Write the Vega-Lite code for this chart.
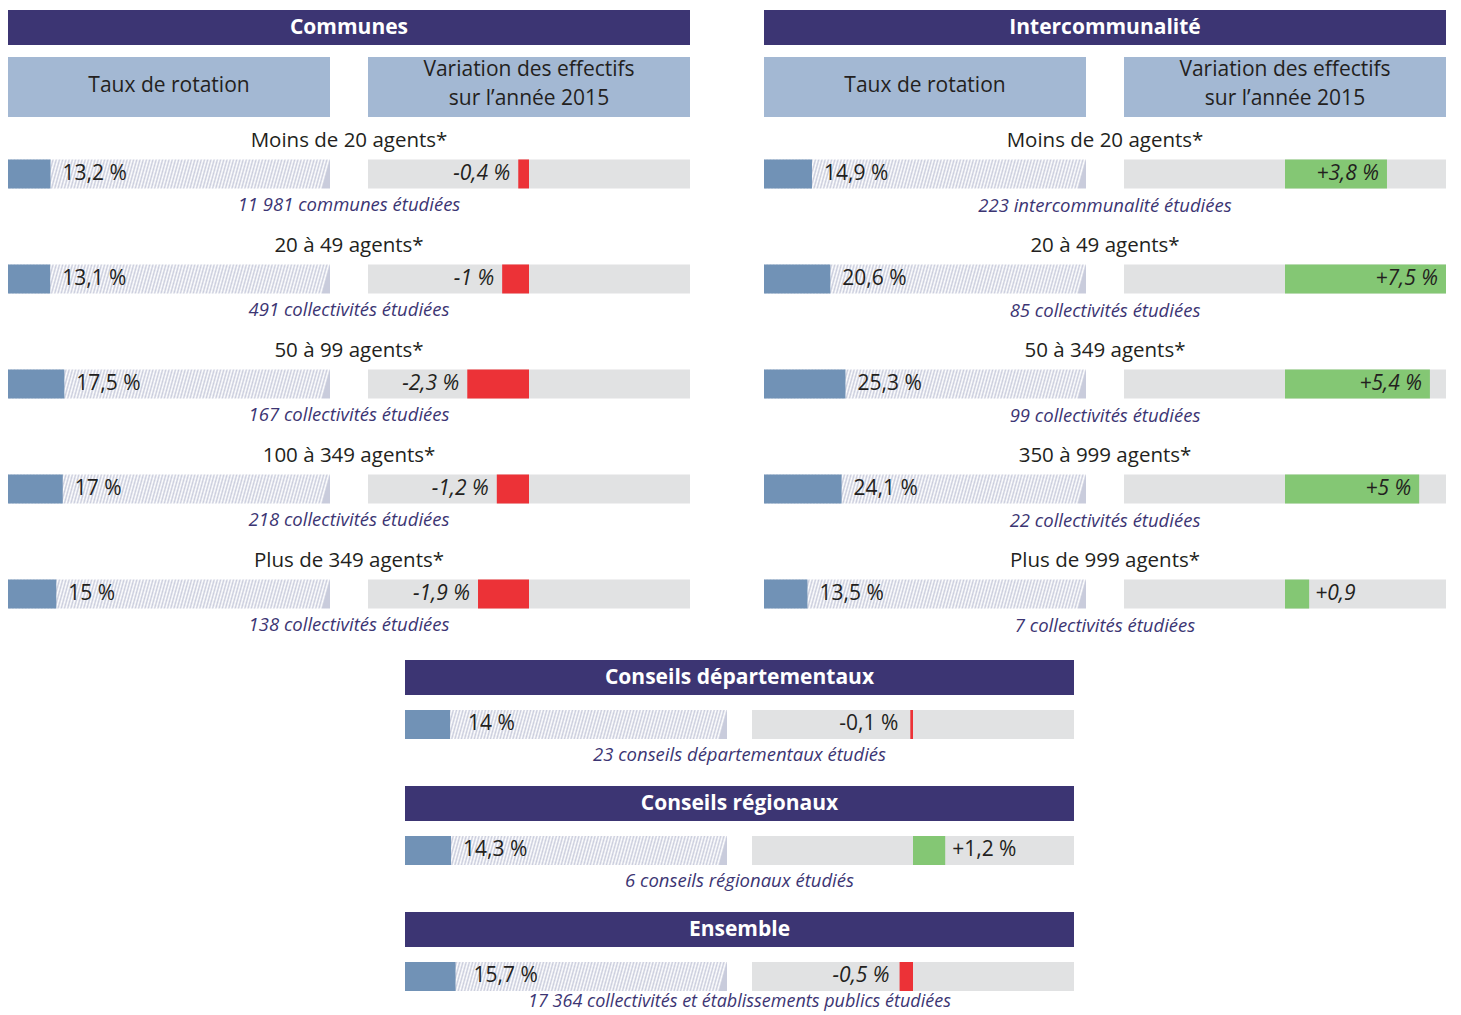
{
"$schema": "https://vega.github.io/schema/vega-lite/v6.json",
"padding": {"left": 8, "top": 10, "right": 0, "bottom": 0},
"background": "#ffffff",
"config": {
 "view": {"stroke": null},
 "font": "Open Sans",
 "text": {"font": "Open Sans", "baseline": "middle"},
 "rect": {"fill": {"gradient": "linear", "x1": 0, "y1": 0, "x2": 1, "y2": 0.025, "stops": [
{"offset":0,"color":"#c9ccdc"},{"offset":0.005,"color":"#fff"},{"offset":0.01,"color":"#c9ccdc"},{"offset":0.015,"color":"#fff"},{"offset":0.02,"color":"#c9ccdc"},{"offset":0.025,"color":"#fff"},{"offset":0.03,"color":"#c9ccdc"},{"offset":0.035,"color":"#fff"},{"offset":0.04,"color":"#c9ccdc"},{"offset":0.045,"color":"#fff"},
{"offset":0.05,"color":"#c9ccdc"},{"offset":0.055,"color":"#fff"},{"offset":0.06,"color":"#c9ccdc"},{"offset":0.065,"color":"#fff"},{"offset":0.07,"color":"#c9ccdc"},{"offset":0.075,"color":"#fff"},{"offset":0.08,"color":"#c9ccdc"},{"offset":0.085,"color":"#fff"},{"offset":0.09,"color":"#c9ccdc"},{"offset":0.095,"color":"#fff"},
{"offset":0.1,"color":"#c9ccdc"},{"offset":0.105,"color":"#fff"},{"offset":0.11,"color":"#c9ccdc"},{"offset":0.115,"color":"#fff"},{"offset":0.12,"color":"#c9ccdc"},{"offset":0.125,"color":"#fff"},{"offset":0.13,"color":"#c9ccdc"},{"offset":0.135,"color":"#fff"},{"offset":0.14,"color":"#c9ccdc"},{"offset":0.145,"color":"#fff"},
{"offset":0.15,"color":"#c9ccdc"},{"offset":0.155,"color":"#fff"},{"offset":0.16,"color":"#c9ccdc"},{"offset":0.165,"color":"#fff"},{"offset":0.17,"color":"#c9ccdc"},{"offset":0.175,"color":"#fff"},{"offset":0.18,"color":"#c9ccdc"},{"offset":0.185,"color":"#fff"},{"offset":0.19,"color":"#c9ccdc"},{"offset":0.195,"color":"#fff"},
{"offset":0.2,"color":"#c9ccdc"},{"offset":0.205,"color":"#fff"},{"offset":0.21,"color":"#c9ccdc"},{"offset":0.215,"color":"#fff"},{"offset":0.22,"color":"#c9ccdc"},{"offset":0.225,"color":"#fff"},{"offset":0.23,"color":"#c9ccdc"},{"offset":0.235,"color":"#fff"},{"offset":0.24,"color":"#c9ccdc"},{"offset":0.245,"color":"#fff"},
{"offset":0.25,"color":"#c9ccdc"},{"offset":0.255,"color":"#fff"},{"offset":0.26,"color":"#c9ccdc"},{"offset":0.265,"color":"#fff"},{"offset":0.27,"color":"#c9ccdc"},{"offset":0.275,"color":"#fff"},{"offset":0.28,"color":"#c9ccdc"},{"offset":0.285,"color":"#fff"},{"offset":0.29,"color":"#c9ccdc"},{"offset":0.295,"color":"#fff"},
{"offset":0.3,"color":"#c9ccdc"},{"offset":0.305,"color":"#fff"},{"offset":0.31,"color":"#c9ccdc"},{"offset":0.315,"color":"#fff"},{"offset":0.32,"color":"#c9ccdc"},{"offset":0.325,"color":"#fff"},{"offset":0.33,"color":"#c9ccdc"},{"offset":0.335,"color":"#fff"},{"offset":0.34,"color":"#c9ccdc"},{"offset":0.345,"color":"#fff"},
{"offset":0.35,"color":"#c9ccdc"},{"offset":0.355,"color":"#fff"},{"offset":0.36,"color":"#c9ccdc"},{"offset":0.365,"color":"#fff"},{"offset":0.37,"color":"#c9ccdc"},{"offset":0.375,"color":"#fff"},{"offset":0.38,"color":"#c9ccdc"},{"offset":0.385,"color":"#fff"},{"offset":0.39,"color":"#c9ccdc"},{"offset":0.395,"color":"#fff"},
{"offset":0.4,"color":"#c9ccdc"},{"offset":0.405,"color":"#fff"},{"offset":0.41,"color":"#c9ccdc"},{"offset":0.415,"color":"#fff"},{"offset":0.42,"color":"#c9ccdc"},{"offset":0.425,"color":"#fff"},{"offset":0.43,"color":"#c9ccdc"},{"offset":0.435,"color":"#fff"},{"offset":0.44,"color":"#c9ccdc"},{"offset":0.445,"color":"#fff"},
{"offset":0.45,"color":"#c9ccdc"},{"offset":0.455,"color":"#fff"},{"offset":0.46,"color":"#c9ccdc"},{"offset":0.465,"color":"#fff"},{"offset":0.47,"color":"#c9ccdc"},{"offset":0.475,"color":"#fff"},{"offset":0.48,"color":"#c9ccdc"},{"offset":0.485,"color":"#fff"},{"offset":0.49,"color":"#c9ccdc"},{"offset":0.495,"color":"#fff"},
{"offset":0.5,"color":"#c9ccdc"},{"offset":0.505,"color":"#fff"},{"offset":0.51,"color":"#c9ccdc"},{"offset":0.515,"color":"#fff"},{"offset":0.52,"color":"#c9ccdc"},{"offset":0.525,"color":"#fff"},{"offset":0.53,"color":"#c9ccdc"},{"offset":0.535,"color":"#fff"},{"offset":0.54,"color":"#c9ccdc"},{"offset":0.545,"color":"#fff"},
{"offset":0.55,"color":"#c9ccdc"},{"offset":0.555,"color":"#fff"},{"offset":0.56,"color":"#c9ccdc"},{"offset":0.565,"color":"#fff"},{"offset":0.57,"color":"#c9ccdc"},{"offset":0.575,"color":"#fff"},{"offset":0.58,"color":"#c9ccdc"},{"offset":0.585,"color":"#fff"},{"offset":0.59,"color":"#c9ccdc"},{"offset":0.595,"color":"#fff"},
{"offset":0.6,"color":"#c9ccdc"},{"offset":0.605,"color":"#fff"},{"offset":0.61,"color":"#c9ccdc"},{"offset":0.615,"color":"#fff"},{"offset":0.62,"color":"#c9ccdc"},{"offset":0.625,"color":"#fff"},{"offset":0.63,"color":"#c9ccdc"},{"offset":0.635,"color":"#fff"},{"offset":0.64,"color":"#c9ccdc"},{"offset":0.645,"color":"#fff"},
{"offset":0.65,"color":"#c9ccdc"},{"offset":0.655,"color":"#fff"},{"offset":0.66,"color":"#c9ccdc"},{"offset":0.665,"color":"#fff"},{"offset":0.67,"color":"#c9ccdc"},{"offset":0.675,"color":"#fff"},{"offset":0.68,"color":"#c9ccdc"},{"offset":0.685,"color":"#fff"},{"offset":0.69,"color":"#c9ccdc"},{"offset":0.695,"color":"#fff"},
{"offset":0.7,"color":"#c9ccdc"},{"offset":0.705,"color":"#fff"},{"offset":0.71,"color":"#c9ccdc"},{"offset":0.715,"color":"#fff"},{"offset":0.72,"color":"#c9ccdc"},{"offset":0.725,"color":"#fff"},{"offset":0.73,"color":"#c9ccdc"},{"offset":0.735,"color":"#fff"},{"offset":0.74,"color":"#c9ccdc"},{"offset":0.745,"color":"#fff"},
{"offset":0.75,"color":"#c9ccdc"},{"offset":0.755,"color":"#fff"},{"offset":0.76,"color":"#c9ccdc"},{"offset":0.765,"color":"#fff"},{"offset":0.77,"color":"#c9ccdc"},{"offset":0.775,"color":"#fff"},{"offset":0.78,"color":"#c9ccdc"},{"offset":0.785,"color":"#fff"},{"offset":0.79,"color":"#c9ccdc"},{"offset":0.795,"color":"#fff"},
{"offset":0.8,"color":"#c9ccdc"},{"offset":0.805,"color":"#fff"},{"offset":0.81,"color":"#c9ccdc"},{"offset":0.815,"color":"#fff"},{"offset":0.82,"color":"#c9ccdc"},{"offset":0.825,"color":"#fff"},{"offset":0.83,"color":"#c9ccdc"},{"offset":0.835,"color":"#fff"},{"offset":0.84,"color":"#c9ccdc"},{"offset":0.845,"color":"#fff"},
{"offset":0.85,"color":"#c9ccdc"},{"offset":0.855,"color":"#fff"},{"offset":0.86,"color":"#c9ccdc"},{"offset":0.865,"color":"#fff"},{"offset":0.87,"color":"#c9ccdc"},{"offset":0.875,"color":"#fff"},{"offset":0.88,"color":"#c9ccdc"},{"offset":0.885,"color":"#fff"},{"offset":0.89,"color":"#c9ccdc"},{"offset":0.895,"color":"#fff"},
{"offset":0.9,"color":"#c9ccdc"},{"offset":0.905,"color":"#fff"},{"offset":0.91,"color":"#c9ccdc"},{"offset":0.915,"color":"#fff"},{"offset":0.92,"color":"#c9ccdc"},{"offset":0.925,"color":"#fff"},{"offset":0.93,"color":"#c9ccdc"},{"offset":0.935,"color":"#fff"},{"offset":0.94,"color":"#c9ccdc"},{"offset":0.945,"color":"#fff"},
{"offset":0.95,"color":"#c9ccdc"},{"offset":0.955,"color":"#fff"},{"offset":0.96,"color":"#c9ccdc"},{"offset":0.965,"color":"#fff"},{"offset":0.97,"color":"#c9ccdc"},{"offset":0.975,"color":"#fff"},{"offset":0.98,"color":"#c9ccdc"},{"offset":0.985,"color":"#fff"},{"offset":0.99,"color":"#c9ccdc"},{"offset":0.995,"color":"#fff"},
{"offset":1,"color":"#c9ccdc"}
 ]}}
},
"datasets": {
 "communes": [
  {"cat":"Moins de 20 agents*","rotation":13.2,"rotLabel":"13,2 %","variation":-0.4,"varLabel":"-0,4 %","note":"11 981 communes étudiées"},
  {"cat":"20 à 49 agents*","rotation":13.1,"rotLabel":"13,1 %","variation":-1,"varLabel":"-1 %","note":"491 collectivités étudiées"},
  {"cat":"50 à 99 agents*","rotation":17.5,"rotLabel":"17,5 %","variation":-2.3,"varLabel":"-2,3 %","note":"167 collectivités étudiées"},
  {"cat":"100 à 349 agents*","rotation":17,"rotLabel":"17 %","variation":-1.2,"varLabel":"-1,2 %","note":"218 collectivités étudiées"},
  {"cat":"Plus de 349 agents*","rotation":15,"rotLabel":"15 %","variation":-1.9,"varLabel":"-1,9 %","note":"138 collectivités étudiées"}
 ],
 "interco": [
  {"cat":"Moins de 20 agents*","rotation":14.9,"rotLabel":"14,9 %","variation":3.8,"varLabel":"+3,8 %","note":"223 intercommunalité étudiées"},
  {"cat":"20 à 49 agents*","rotation":20.6,"rotLabel":"20,6 %","variation":7.5,"varLabel":"+7,5 %","note":"85 collectivités étudiées"},
  {"cat":"50 à 349 agents*","rotation":25.3,"rotLabel":"25,3 %","variation":5.4,"varLabel":"+5,4 %","note":"99 collectivités étudiées"},
  {"cat":"350 à 999 agents*","rotation":24.1,"rotLabel":"24,1 %","variation":5,"varLabel":"+5 %","note":"22 collectivités étudiées"},
  {"cat":"Plus de 999 agents*","rotation":13.5,"rotLabel":"13,5 %","variation":0.9,"varLabel":"+0,9","note":"7 collectivités étudiées"}
 ],
 "bottom": [
  {"section":"Conseils départementaux","rotation":14,"rotLabel":"14 %","variation":-0.1,"varLabel":"-0,1 %","note":"23 conseils départementaux étudiés"},
  {"section":"Conseils régionaux","rotation":14.3,"rotLabel":"14,3 %","variation":1.2,"varLabel":"+1,2 %","note":"6 conseils régionaux étudiés"},
  {"section":"Ensemble","rotation":15.7,"rotLabel":"15,7 %","variation":-0.5,"varLabel":"-0,5 %","note":"17 364 collectivités et établissements publics étudiées"}
 ]
},
"spacing": 20,
"vconcat": [
 {
  "hconcat": [
   {
    "spacing": 12,
    "vconcat": [
     {"width": 682, "height": 35, "view": {"fill": "#3c3573", "stroke": null},
      "data": {"values": [{"label": "Communes"}]},
      "mark": {"type": "text", "color": "#ffffff", "fontSize": 21, "fontWeight": "bold"},
      "encoding": {"text": {"field": "label"}}},
     {"spacing": 38, "hconcat": [
      {"width": 322, "height": 60, "view": {"fill": "#a3b8d3", "stroke": null},
       "data": {"values": [{"label": "Taux de rotation"}]},
       "mark": {"type": "text", "color": "#231f20", "fontSize": 21, "dy": -1},
       "encoding": {"text": {"field": "label"}}},
      {"width": 322, "height": 60, "view": {"fill": "#a3b8d3", "stroke": null},
       "data": {"values": [{"label": "Variation des effectifs\nsur l’année 2015"}]},
       "mark": {"type": "text", "color": "#231f20", "fontSize": 21, "lineBreak": "\n", "lineHeight": 29, "dy": -17},
       "encoding": {"text": {"field": "label"}}}
     ]},
     {"spacing": 38, "bounds": "flush", "hconcat": [
      {"width": 322, "height": 510, "data": {"name": "communes"},
       "encoding": {"y": {"field": "cat", "type": "nominal", "axis": null, "scale": {"domain": ["Moins de 20 agents*","20 à 49 agents*","50 à 99 agents*","100 à 349 agents*","Plus de 349 agents*"], "paddingInner": 0.7238, "paddingOuter": 0.29}}},
       "layer": [
        {"mark": {"type": "rect"}, "encoding": {"x": {"datum": 0, "type": "quantitative", "scale": {"domain": [0, 100]}, "axis": null}, "x2": {"datum": 100}}},
        {"mark": {"type": "bar", "color": "#7192b6"}, "encoding": {"x": {"field": "rotation", "type": "quantitative", "scale": {"domain": [0, 100]}, "axis": null}}},
        {"mark": {"type": "text", "align": "left", "dx": 12, "fontSize": 21, "color": "#231f20"}, "encoding": {"x": {"field": "rotation", "type": "quantitative"}, "text": {"field": "rotLabel"}}},
        {"mark": {"type": "text", "align": "center", "dx": 19, "dy": -33, "fontSize": 20.5, "color": "#231f20"}, "encoding": {"x": {"datum": 100, "type": "quantitative"}, "text": {"field": "cat"}}},
        {"mark": {"type": "text", "align": "center", "dx": 19, "dy": 31, "fontSize": 18.5, "fontStyle": "italic", "color": "#3c3573"}, "encoding": {"x": {"datum": 100, "type": "quantitative"}, "text": {"field": "note"}}}
       ]},
      {"width": 322, "height": 510, "data": {"name": "communes"},
       "encoding": {"y": {"field": "cat", "type": "nominal", "axis": null, "scale": {"domain": ["Moins de 20 agents*","20 à 49 agents*","50 à 99 agents*","100 à 349 agents*","Plus de 349 agents*"], "paddingInner": 0.7238, "paddingOuter": 0.29}}},
       "layer": [
        {"mark": {"type": "bar", "color": "#e1e2e3"}, "encoding": {"x": {"datum": -6, "type": "quantitative", "scale": {"domain": [-6, 6], "clamp": true}, "axis": null}, "x2": {"datum": 6}}},
        {"mark": {"type": "bar"}, "encoding": {"x": {"field": "variation", "type": "quantitative", "stack": null}, "x2": {"datum": 0}, "color": {"condition": {"test": "datum['variation'] < 0", "value": "#ec3237"}, "value": "#84c774"}}},
        {"transform": [{"filter": "datum['variation'] < 0"}], "mark": {"type": "text", "align": "right", "dx": -8, "fontSize": 21, "fontStyle": "italic", "color": "#231f20"}, "encoding": {"x": {"field": "variation", "type": "quantitative"}, "text": {"field": "varLabel"}}},
        {"transform": [{"filter": "datum['variation'] >= 2"}], "mark": {"type": "text", "align": "right", "dx": -8, "fontSize": 21, "fontStyle": "italic", "color": "#231f20"}, "encoding": {"x": {"field": "variation", "type": "quantitative"}, "text": {"field": "varLabel"}}},
        {"transform": [{"filter": "datum['variation'] >= 0 && datum['variation'] < 2"}], "mark": {"type": "text", "align": "left", "dx": 6, "fontSize": 21, "fontStyle": "italic", "color": "#231f20"}, "encoding": {"x": {"field": "variation", "type": "quantitative"}, "text": {"field": "varLabel"}}}
       ]}
     ]}
    ]
   },
   {
    "spacing": 12,
    "vconcat": [
     {"width": 682, "height": 35, "view": {"fill": "#3c3573", "stroke": null},
      "data": {"values": [{"label": "Intercommunalité"}]},
      "mark": {"type": "text", "color": "#ffffff", "fontSize": 21, "fontWeight": "bold"},
      "encoding": {"text": {"field": "label"}}},
     {"spacing": 38, "hconcat": [
      {"width": 322, "height": 60, "view": {"fill": "#a3b8d3", "stroke": null},
       "data": {"values": [{"label": "Taux de rotation"}]},
       "mark": {"type": "text", "color": "#231f20", "fontSize": 21, "dy": -1},
       "encoding": {"text": {"field": "label"}}},
      {"width": 322, "height": 60, "view": {"fill": "#a3b8d3", "stroke": null},
       "data": {"values": [{"label": "Variation des effectifs\nsur l’année 2015"}]},
       "mark": {"type": "text", "color": "#231f20", "fontSize": 21, "lineBreak": "\n", "lineHeight": 29, "dy": -17},
       "encoding": {"text": {"field": "label"}}}
     ]},
     {"spacing": 38, "bounds": "flush", "hconcat": [
      {"width": 322, "height": 510, "data": {"name": "interco"},
       "encoding": {"y": {"field": "cat", "type": "nominal", "axis": null, "scale": {"domain": ["Moins de 20 agents*","20 à 49 agents*","50 à 349 agents*","350 à 999 agents*","Plus de 999 agents*"], "paddingInner": 0.7238, "paddingOuter": 0.29}}},
       "layer": [
        {"mark": {"type": "rect"}, "encoding": {"x": {"datum": 0, "type": "quantitative", "scale": {"domain": [0, 100]}, "axis": null}, "x2": {"datum": 100}}},
        {"mark": {"type": "bar", "color": "#7192b6"}, "encoding": {"x": {"field": "rotation", "type": "quantitative", "scale": {"domain": [0, 100]}, "axis": null}}},
        {"mark": {"type": "text", "align": "left", "dx": 12, "fontSize": 21, "color": "#231f20"}, "encoding": {"x": {"field": "rotation", "type": "quantitative"}, "text": {"field": "rotLabel"}}},
        {"mark": {"type": "text", "align": "center", "dx": 19, "dy": -33, "fontSize": 20.5, "color": "#231f20"}, "encoding": {"x": {"datum": 100, "type": "quantitative"}, "text": {"field": "cat"}}},
        {"mark": {"type": "text", "align": "center", "dx": 19, "dy": 32, "fontSize": 18.5, "fontStyle": "italic", "color": "#3c3573"}, "encoding": {"x": {"datum": 100, "type": "quantitative"}, "text": {"field": "note"}}}
       ]},
      {"width": 322, "height": 510, "data": {"name": "interco"},
       "encoding": {"y": {"field": "cat", "type": "nominal", "axis": null, "scale": {"domain": ["Moins de 20 agents*","20 à 49 agents*","50 à 349 agents*","350 à 999 agents*","Plus de 999 agents*"], "paddingInner": 0.7238, "paddingOuter": 0.29}}},
       "layer": [
        {"mark": {"type": "bar", "color": "#e1e2e3"}, "encoding": {"x": {"datum": -6, "type": "quantitative", "scale": {"domain": [-6, 6], "clamp": true}, "axis": null}, "x2": {"datum": 6}}},
        {"mark": {"type": "bar"}, "encoding": {"x": {"field": "variation", "type": "quantitative", "stack": null}, "x2": {"datum": 0}, "color": {"condition": {"test": "datum['variation'] < 0", "value": "#ec3237"}, "value": "#84c774"}}},
        {"transform": [{"filter": "datum['variation'] < 0"}], "mark": {"type": "text", "align": "right", "dx": -8, "fontSize": 21, "fontStyle": "italic", "color": "#231f20"}, "encoding": {"x": {"field": "variation", "type": "quantitative"}, "text": {"field": "varLabel"}}},
        {"transform": [{"filter": "datum['variation'] >= 2"}], "mark": {"type": "text", "align": "right", "dx": -8, "fontSize": 21, "fontStyle": "italic", "color": "#231f20"}, "encoding": {"x": {"field": "variation", "type": "quantitative"}, "text": {"field": "varLabel"}}},
        {"transform": [{"filter": "datum['variation'] >= 0 && datum['variation'] < 2"}], "mark": {"type": "text", "align": "left", "dx": 6, "fontSize": 21, "fontStyle": "italic", "color": "#231f20"}, "encoding": {"x": {"field": "variation", "type": "quantitative"}, "text": {"field": "varLabel"}}}
       ]}
     ]}
    ]
   }
  ],
  "spacing": 74
 },
 {
  "spacing": 0,
  "hconcat": [
   {"width": 397, "height": 10, "data": {"values": [{"label": ""}]}, "mark": {"type": "text"}, "encoding": {"text": {"field": "label"}}},
   {
    "spacing": 16,
    "vconcat": [
     {"spacing": 15, "vconcat": [
      {"width": 669, "height": 35, "view": {"fill": "#3c3573", "stroke": null},
       "data": {"name": "bottom"}, "transform": [{"filter": "datum.section == 'Conseils départementaux'"}],
       "mark": {"type": "text", "color": "#ffffff", "fontSize": 21, "fontWeight": "bold"},
       "encoding": {"text": {"field": "section"}}},
      {"spacing": 25, "bounds": "flush", "hconcat": [
       {"width": 322, "height": 60, "data": {"name": "bottom"}, "transform": [{"filter": "datum.section == 'Conseils départementaux'"}],
        "encoding": {"y": {"field": "section", "type": "nominal", "axis": null, "scale": {"paddingInner": 0, "paddingOuter": 0.5345, "align": 0}}},
        "layer": [
         {"mark": {"type": "rect"}, "encoding": {"x": {"datum": 0, "type": "quantitative", "scale": {"domain": [0, 100]}, "axis": null}, "x2": {"datum": 100}}},
         {"mark": {"type": "bar", "color": "#7192b6"}, "encoding": {"x": {"field": "rotation", "type": "quantitative", "scale": {"domain": [0, 100]}, "axis": null}}},
         {"mark": {"type": "text", "align": "left", "dx": 18, "fontSize": 21, "color": "#231f20"}, "encoding": {"x": {"field": "rotation", "type": "quantitative"}, "text": {"field": "rotLabel"}}},
         {"mark": {"type": "text", "align": "center", "dx": 12.5, "dy": 30.5, "fontSize": 18.5, "fontStyle": "italic", "color": "#3c3573"}, "encoding": {"x": {"datum": 100, "type": "quantitative"}, "text": {"field": "note"}}}
        ]},
       {"width": 322, "height": 60, "data": {"name": "bottom"}, "transform": [{"filter": "datum.section == 'Conseils départementaux'"}],
        "encoding": {"y": {"field": "section", "type": "nominal", "axis": null, "scale": {"paddingInner": 0, "paddingOuter": 0.5345, "align": 0}}},
        "layer": [
         {"mark": {"type": "bar", "color": "#e1e2e3"}, "encoding": {"x": {"datum": -6, "type": "quantitative", "scale": {"domain": [-6, 6], "clamp": true}, "axis": null}, "x2": {"datum": 6}}},
         {"mark": {"type": "bar"}, "encoding": {"x": {"field": "variation", "type": "quantitative", "stack": null}, "x2": {"datum": 0}, "color": {"condition": {"test": "datum['variation'] < 0", "value": "#ec3237"}, "value": "#84c774"}}},
         {"mark": {"type": "text", "align": "right", "dx": -12, "fontSize": 21, "color": "#231f20"}, "encoding": {"x": {"field": "variation", "type": "quantitative"}, "text": {"field": "varLabel"}}}
        ]}
      ]}
     ]},
     {"spacing": 15, "vconcat": [
      {"width": 669, "height": 35, "view": {"fill": "#3c3573", "stroke": null},
       "data": {"name": "bottom"}, "transform": [{"filter": "datum.section == 'Conseils régionaux'"}],
       "mark": {"type": "text", "color": "#ffffff", "fontSize": 21, "fontWeight": "bold"},
       "encoding": {"text": {"field": "section"}}},
      {"spacing": 25, "bounds": "flush", "hconcat": [
       {"width": 322, "height": 60, "data": {"name": "bottom"}, "transform": [{"filter": "datum.section == 'Conseils régionaux'"}],
        "encoding": {"y": {"field": "section", "type": "nominal", "axis": null, "scale": {"paddingInner": 0, "paddingOuter": 0.5345, "align": 0}}},
        "layer": [
         {"mark": {"type": "rect"}, "encoding": {"x": {"datum": 0, "type": "quantitative", "scale": {"domain": [0, 100]}, "axis": null}, "x2": {"datum": 100}}},
         {"mark": {"type": "bar", "color": "#7192b6"}, "encoding": {"x": {"field": "rotation", "type": "quantitative", "scale": {"domain": [0, 100]}, "axis": null}}},
         {"mark": {"type": "text", "align": "left", "dx": 12, "fontSize": 21, "color": "#231f20"}, "encoding": {"x": {"field": "rotation", "type": "quantitative"}, "text": {"field": "rotLabel"}}},
         {"mark": {"type": "text", "align": "center", "dx": 12.5, "dy": 30.5, "fontSize": 18.5, "fontStyle": "italic", "color": "#3c3573"}, "encoding": {"x": {"datum": 100, "type": "quantitative"}, "text": {"field": "note"}}}
        ]},
       {"width": 322, "height": 60, "data": {"name": "bottom"}, "transform": [{"filter": "datum.section == 'Conseils régionaux'"}],
        "encoding": {"y": {"field": "section", "type": "nominal", "axis": null, "scale": {"paddingInner": 0, "paddingOuter": 0.5345, "align": 0}}},
        "layer": [
         {"mark": {"type": "bar", "color": "#e1e2e3"}, "encoding": {"x": {"datum": -6, "type": "quantitative", "scale": {"domain": [-6, 6], "clamp": true}, "axis": null}, "x2": {"datum": 6}}},
         {"mark": {"type": "bar"}, "encoding": {"x": {"field": "variation", "type": "quantitative", "stack": null}, "x2": {"datum": 0}, "color": {"condition": {"test": "datum['variation'] < 0", "value": "#ec3237"}, "value": "#84c774"}}},
         {"mark": {"type": "text", "align": "left", "dx": 7, "fontSize": 21, "color": "#231f20"}, "encoding": {"x": {"field": "variation", "type": "quantitative"}, "text": {"field": "varLabel"}}}
        ]}
      ]}
     ]},
     {"spacing": 15, "vconcat": [
      {"width": 669, "height": 35, "view": {"fill": "#3c3573", "stroke": null},
       "data": {"name": "bottom"}, "transform": [{"filter": "datum.section == 'Ensemble'"}],
       "mark": {"type": "text", "color": "#ffffff", "fontSize": 21, "fontWeight": "bold"},
       "encoding": {"text": {"field": "section"}}},
      {"spacing": 25, "bounds": "flush", "hconcat": [
       {"width": 322, "height": 60, "data": {"name": "bottom"}, "transform": [{"filter": "datum.section == 'Ensemble'"}],
        "encoding": {"y": {"field": "section", "type": "nominal", "axis": null, "scale": {"paddingInner": 0, "paddingOuter": 0.5345, "align": 0}}},
        "layer": [
         {"mark": {"type": "rect"}, "encoding": {"x": {"datum": 0, "type": "quantitative", "scale": {"domain": [0, 100]}, "axis": null}, "x2": {"datum": 100}}},
         {"mark": {"type": "bar", "color": "#7192b6"}, "encoding": {"x": {"field": "rotation", "type": "quantitative", "scale": {"domain": [0, 100]}, "axis": null}}},
         {"mark": {"type": "text", "align": "left", "dx": 18, "fontSize": 21, "color": "#231f20"}, "encoding": {"x": {"field": "rotation", "type": "quantitative"}, "text": {"field": "rotLabel"}}},
         {"mark": {"type": "text", "align": "center", "dx": 12.5, "dy": 26, "fontSize": 18, "fontStyle": "italic", "color": "#3c3573"}, "encoding": {"x": {"datum": 100, "type": "quantitative"}, "text": {"field": "note"}}}
        ]},
       {"width": 322, "height": 60, "data": {"name": "bottom"}, "transform": [{"filter": "datum.section == 'Ensemble'"}],
        "encoding": {"y": {"field": "section", "type": "nominal", "axis": null, "scale": {"paddingInner": 0, "paddingOuter": 0.5345, "align": 0}}},
        "layer": [
         {"mark": {"type": "bar", "color": "#e1e2e3"}, "encoding": {"x": {"datum": -6, "type": "quantitative", "scale": {"domain": [-6, 6], "clamp": true}, "axis": null}, "x2": {"datum": 6}}},
         {"mark": {"type": "bar"}, "encoding": {"x": {"field": "variation", "type": "quantitative", "stack": null}, "x2": {"datum": 0}, "color": {"condition": {"test": "datum['variation'] < 0", "value": "#ec3237"}, "value": "#84c774"}}},
         {"mark": {"type": "text", "align": "right", "dx": -10, "fontSize": 21, "fontStyle": "italic", "color": "#231f20"}, "encoding": {"x": {"field": "variation", "type": "quantitative"}, "text": {"field": "varLabel"}}}
        ]}
      ]}
     ]}
    ]
   }
  ]
 }
]
}
